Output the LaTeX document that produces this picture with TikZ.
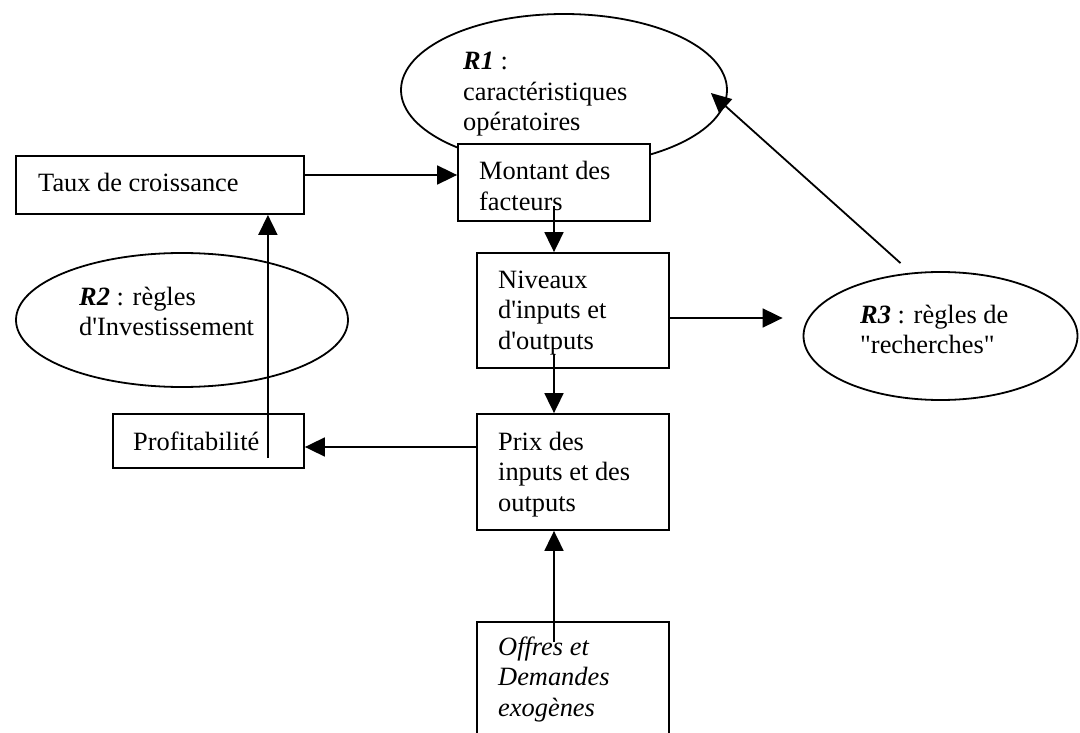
\documentclass[tikz,border=0pt]{standalone}
\usepackage{fontspec}
\setmainfont{Liberation Serif}[Ligatures=TeXOff]
\usetikzlibrary{shapes.geometric,arrows.meta}
\newcommand\ml[1]{\vtop{\baselineskip=30.5pt\lineskiplimit=-100pt\halign{##\hfil\cr#1\crcr}}}
\begin{document}
\begin{tikzpicture}[x=1pt,y=-1pt,
  box/.style={draw,line width=1.8pt,fill=white,rectangle,inner sep=0pt},
  ell/.style={draw,line width=1.8pt,ellipse,inner sep=0pt},
  txt/.style={anchor=base west,inner sep=0pt,font=\fontsize{26.4}{30.5}\selectfont},
  arr/.style={line width=1.8pt,-{Triangle[length=20pt,width=19pt]}}]
\clip (0,0) rectangle (1080,733);
\fill[white] (0,0) rectangle (1080,733);
% ellipses
\node[ell,minimum width=326pt,minimum height=152pt] (r1) at (564,90) {};
\node[ell,minimum width=332pt,minimum height=134pt] (r2) at (182,320) {};
\node[ell,minimum width=274pt,minimum height=128pt] (r3) at (940.5,336) {};
% boxes
\node[box,minimum width=288pt,minimum height=58pt] (taux) at (160,185) {};
\node[box,minimum width=192pt,minimum height=77pt] (mont) at (554,182.5) {};
\node[box,minimum width=192pt,minimum height=115pt] (niv) at (573,310.5) {};
\node[box,minimum width=192pt,minimum height=116pt] (prix) at (573,472) {};
\node[box,minimum width=191pt,minimum height=54pt] (prof) at (208.5,441) {};
\node[box,minimum width=192pt,minimum height=160pt] (off) at (573,702) {};
% texts
\node[txt] (t1) at (463,70) {\ml{\textbf{\textit{R1}} :\cr caractéristiques\cr opératoires}};
\node[txt] (t2) at (79,305) {\ml{\textbf{\textit{R2}} : règles\cr d'Investissement}};
\node[txt] (t3) at (860,323) {\ml{\textbf{\textit{R3}} : règles de\cr "recherches"}};
\node[txt] (t4) at (38,192) {Taux de croissance};
\node[txt] (t5) at (479,180) {\ml{Montant des\cr facteurs}};
\node[txt] (t6) at (498,288) {\ml{Niveaux\cr d'inputs et\cr d'outputs}};
\node[txt] (t7) at (498,450) {\ml{Prix des\cr inputs et des\cr outputs}};
\node[txt] (t8) at (133,450) {Profitabilité};
\node[txt] (t9) at (498,655) {\ml{\textit{Offres et}\cr \textit{Demandes}\cr \textit{exogènes}}};
% connectors
\coordinate (a1) at ([yshift=10pt]taux.east);
\draw[arr] (a1) -- (a1 -| mont.west);
\coordinate (a2) at ([yshift=16pt]mont.south);
\draw[arr] (a2) -- (a2 |- niv.north);
\coordinate (a3) at ([xshift=-19pt,yshift=15pt]niv.south);
\draw[arr] (a3) -- (a3 |- prix.north);
\coordinate (a4) at ([yshift=25pt]prix.west);
\draw[arr] (a4) -- (a4 -| prof.east);
\coordinate (a5) at ([xshift=-37pt,yshift=-17pt]prof.east);
\draw[arr] (a5) -- (a5 |- taux.south);
\coordinate (a6) at ([xshift=-19pt,yshift=-21pt]off.north);
\draw[arr] (a6) -- (a6 |- prix.south);
\coordinate (a7) at ([yshift=-7.5pt]niv.east);
\coordinate (e7) at ([xshift=-20pt]r3.west);
\draw[arr] (a7) -- (a7 -| e7);
\coordinate (a8) at ([xshift=-40pt,yshift=8pt]r3.north);
\draw[arr] (a8) -- ([xshift=-17pt,yshift=-3pt]r1.east);
\end{tikzpicture}
\end{document}
